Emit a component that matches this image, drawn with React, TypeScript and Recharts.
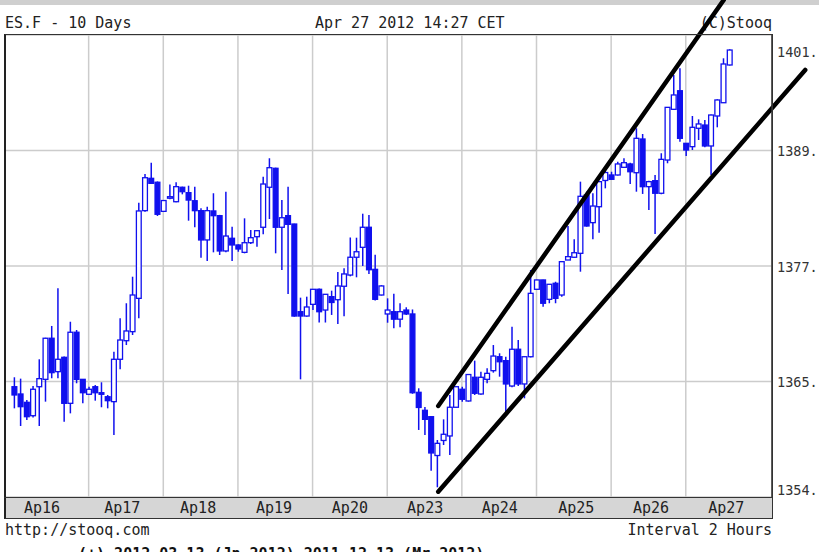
import React from 'react';
import { ComposedChart, Bar, XAxis, YAxis, CartesianGrid, ReferenceLine } from 'recharts';

// ---- data (2-hour candles, ES.F) ----
const opens = [
  1365.42, 1364.68, 1363.83, 1362.47, 1365.42, 1366.17, 1370.35, 1366.95, 1368.41, 1363.73, 1370.96, 1366.17,
  1364.65, 1365.42, 1364.81, 1364.4, 1363.9, 1368.21, 1370.1, 1371.02, 1374.41, 1383.33, 1386.62, 1386.22,
  1383.26, 1384.6, 1384.24, 1385.71, 1385.16, 1384.34, 1383.33, 1380.35, 1383.3, 1382.82, 1379.23, 1380.52,
  1379.84, 1379.09, 1380.07, 1380.68, 1381.64, 1385.71, 1387.64, 1381.64, 1382.82, 1381.97, 1373.05, 1372.61,
  1373.8, 1375.33, 1373.22, 1374.58, 1374.27, 1375.64, 1376.78, 1378.59, 1379.6, 1381.64, 1377.36, 1374.75,
  1372.82, 1373.05, 1372.29, 1373.22, 1372.82, 1364.85, 1363.02, 1362.37, 1358.42, 1359.95, 1360.41, 1363.33,
  1365.16, 1363.97, 1366.38, 1364.68, 1366.17, 1367.05, 1368.47, 1368.07, 1365.49, 1369.23, 1365.7, 1368.47,
  1375.33, 1376.28, 1374.31, 1375.94, 1374.75, 1378.31, 1378.59, 1378.99, 1384.92, 1382.11, 1383.73, 1386.4,
  1386.96, 1386.96, 1387.74, 1388.08, 1387.19, 1390.62, 1385.77, 1386.38, 1385.1, 1388.48, 1393.64, 1395.53,
  1390.18, 1389.84, 1391.71, 1392.04, 1389.91, 1392.96, 1394.31, 1398.15,
];
const highs = [
  1366.38, 1366.24, 1364.07, 1365.49, 1368.21, 1370.4, 1371.6, 1375.43, 1368.5, 1372.03, 1371.19, 1366.2,
  1365.42, 1365.59, 1365.87, 1364.58, 1368.98, 1372.38, 1373.91, 1376.61, 1384.14, 1387.06, 1388.21, 1386.3,
  1384.4, 1386.0, 1386.22, 1385.77, 1385.87, 1385.77, 1383.57, 1383.73, 1385.1, 1382.9, 1385.26, 1381.7,
  1379.9, 1382.55, 1381.36, 1381.36, 1386.78, 1388.66, 1387.7, 1384.41, 1385.77, 1382.0, 1374.48, 1374.58,
  1375.36, 1375.4, 1374.85, 1375.19, 1377.09, 1377.47, 1380.6, 1380.58, 1383.02, 1382.89, 1378.85, 1375.75,
  1374.41, 1374.88, 1373.91, 1373.5, 1373.28, 1365.26, 1363.36, 1362.4, 1360.0, 1362.1, 1364.58, 1365.45,
  1365.42, 1366.7, 1368.07, 1366.95, 1367.29, 1369.66, 1368.82, 1368.47, 1371.53, 1370.17, 1368.5, 1377.29,
  1376.3, 1376.3, 1375.85, 1376.1, 1378.15, 1381.77, 1380.42, 1386.28, 1385.26, 1385.1, 1386.3, 1387.47,
  1387.29, 1388.31, 1388.66, 1388.21, 1391.71, 1391.13, 1386.38, 1386.96, 1389.17, 1393.85, 1397.13, 1397.81,
  1390.2, 1392.96, 1392.62, 1392.55, 1393.1, 1394.66, 1398.83, 1399.75,
];
const lows = [
  1363.22, 1361.42, 1362.03, 1362.3, 1361.42, 1363.9, 1366.28, 1366.28, 1361.86, 1362.71, 1365.77, 1363.73,
  1364.58, 1364.0, 1363.33, 1363.22, 1360.51, 1367.19, 1369.66, 1370.68, 1372.38, 1383.22, 1386.04, 1382.79,
  1383.2, 1384.5, 1384.18, 1384.99, 1382.31, 1381.64, 1378.54, 1378.21, 1379.09, 1378.82, 1379.09, 1378.21,
  1379.15, 1378.99, 1379.94, 1379.66, 1380.93, 1382.48, 1378.99, 1377.29, 1374.85, 1372.54, 1366.17, 1372.54,
  1373.22, 1371.95, 1371.95, 1372.72, 1371.8, 1372.58, 1376.65, 1376.55, 1377.7, 1376.89, 1374.2, 1374.7,
  1371.93, 1371.36, 1371.46, 1372.72, 1364.7, 1361.02, 1360.51, 1356.88, 1355.19, 1359.49, 1358.47, 1363.3,
  1363.9, 1363.9, 1364.58, 1364.6, 1365.77, 1366.85, 1366.44, 1362.71, 1365.36, 1365.49, 1364.24, 1368.4,
  1375.3, 1373.56, 1373.91, 1373.91, 1374.58, 1378.3, 1378.55, 1377.12, 1381.7, 1380.42, 1381.09, 1385.6,
  1386.45, 1386.9, 1387.7, 1386.04, 1385.26, 1385.03, 1383.4, 1380.96, 1385.0, 1388.15, 1393.57, 1390.35,
  1388.89, 1389.5, 1390.52, 1389.78, 1386.96, 1391.81, 1394.3, 1398.1,
];
const closes = [
  1364.58, 1363.39, 1362.37, 1365.16, 1366.24, 1370.35, 1366.85, 1368.21, 1363.73, 1370.96, 1366.17, 1364.81,
  1365.16, 1364.81, 1364.65, 1364.0, 1368.21, 1370.17, 1371.09, 1374.75, 1383.3, 1386.68, 1386.11, 1382.96,
  1384.36, 1384.75, 1385.77, 1385.26, 1384.41, 1383.33, 1380.35, 1383.33, 1382.82, 1379.23, 1380.75, 1379.84,
  1379.43, 1380.07, 1380.58, 1381.29, 1386.04, 1387.7, 1381.64, 1382.61, 1381.94, 1372.61, 1372.61, 1373.53,
  1375.33, 1373.05, 1374.82, 1373.99, 1375.67, 1376.89, 1378.59, 1379.15, 1381.64, 1377.32, 1374.31, 1375.67,
  1373.22, 1372.29, 1373.05, 1372.82, 1364.81, 1363.31, 1362.1, 1358.68, 1359.66, 1360.58, 1363.33, 1365.42,
  1364.14, 1366.66, 1364.75, 1366.38, 1366.78, 1368.54, 1367.96, 1365.7, 1369.23, 1365.7, 1368.47, 1374.92,
  1376.28, 1373.91, 1375.84, 1374.41, 1378.14, 1378.65, 1379.05, 1384.79, 1381.77, 1383.8, 1386.28, 1387.21,
  1386.52, 1388.08, 1388.21, 1387.29, 1390.69, 1385.77, 1386.28, 1385.1, 1388.55, 1393.84, 1395.1, 1390.69,
  1389.5, 1391.81, 1392.15, 1389.91, 1393.06, 1394.59, 1398.25, 1399.67,
];

const dayLabels = ['Ap16', 'Ap17', 'Ap18', 'Ap19', 'Ap20', 'Ap23', 'Ap24', 'Ap25', 'Ap26', 'Ap27'];
const dayLabelPos = [4.5, 17.4, 29.6, 41.8, 54, 66.1, 78.1, 90.4, 102.4, 114.5];
const dayBoundaries = [12, 24, 36, 48, 60, 72, 84, 96, 108];
const yTicks = [1354.2, 1365.95, 1377.7, 1389.45, 1401.2];
const xDomain: [number, number] = [-1.447, 121.86];

// hand-drawn trend channel (index, price)
const upperLine = [
  { x: 68.2, y: 1363.46 },
  { x: 114.1, y: 1404.76 },
];
const lowerLine = [
  { x: 68.2, y: 1354.74 },
  { x: 127.2, y: 1397.64 },
];

const data = opens.map((o, i) => ({
  i,
  open: o,
  high: highs[i],
  low: lows[i],
  close: closes[i],
  range: [lows[i], highs[i]],
}));

const BLUE = '#1010ee';
const MONO = '"DejaVu Sans Mono", "Liberation Mono", monospace';

const Candle = (props: any) => {
  const { x, y, width, height, payload } = props;
  if (x == null || y == null || !payload) return null;
  const cx = x + width / 2;
  const top = Math.min(y, y + height);
  const h = Math.abs(height);
  const { open, close, high, low } = payload;
  const span = high - low || 1;
  const py = (p: number) => top + ((high - p) / span) * h;
  const up = close >= open;
  const yo = py(open);
  const yc = py(close);
  const bt = Math.min(yo, yc);
  const bh = Math.max(Math.abs(yo - yc), 1.5);
  return (
    <g>
      <line x1={cx} x2={cx} y1={top} y2={top + h} stroke={BLUE} strokeWidth={1.5} />
      <rect x={cx - 2.4} y={bt} width={4.8} height={bh} fill={up ? '#ffffff' : BLUE} stroke={BLUE} strokeWidth={1.3} />
    </g>
  );
};

const YTick = (props: any) => {
  const { x, y, payload } = props;
  const v = payload.value;
  let yy = y;
  if (Math.abs(v - yTicks[yTicks.length - 1]) < 0.01) yy = y + 17;
  else if (Math.abs(v - yTicks[0]) < 0.01) yy = y - 7;
  else yy = y + 1;
  return (
    <text x={x} y={yy} dy="0.35em" textAnchor="start" fontFamily={MONO} fontSize={13.5} fill="#333">
      {Math.floor(v) + '.'}
    </text>
  );
};

const XTick = (props: any) => {
  const { x, y, payload } = props;
  const idx = dayLabelPos.findIndex((p) => Math.abs(p - payload.value) < 0.01);
  return (
    <text x={x} y={y + 11} dy="0.35em" textAnchor="middle" fontFamily={MONO} fontSize={15} fill="#222">
      {idx >= 0 ? dayLabels[idx] : ''}
    </text>
  );
};

const txt: React.CSSProperties = {
  position: 'absolute',
  fontFamily: MONO,
  fontSize: 15,
  lineHeight: '16px',
  color: '#222',
  whiteSpace: 'pre',
};

export default function App() {
  return (
    <div style={{ position: 'absolute', left: 0, top: 0, width: 819, height: 552, overflow: 'hidden', background: '#fff' }}>
      <div style={{ position: 'absolute', left: 0, top: 0, width: 819, height: 5, background: '#cfcfcf' }} />
      <div style={{ ...txt, left: 5, top: 15 }}>ES.F - 10 Days</div>
      <div style={{ ...txt, left: 315, top: 15 }}>Apr 27 2012 14:27 CET</div>
      <div style={{ ...txt, right: 47, top: 15 }}>(C)Stooq</div>

      <div style={{ position: 'absolute', left: 5, top: 497, width: 767, height: 21, background: '#d6d6d6' }} />

      <div style={{ position: 'absolute', left: 0, top: 0 }}>
        <ComposedChart width={819} height={552} data={data} margin={{ top: 35, right: 0, bottom: 34, left: 5 }}>
          <XAxis
            xAxisId="lab"
            type="number"
            dataKey="i"
            domain={xDomain}
            ticks={dayLabelPos}
            allowDataOverflow
            height={21}
            tickLine={false}
            axisLine={false}
            tickSize={0}
            tickMargin={0}
            interval={0}
            tick={<XTick />}
          />
          <XAxis xAxisId="g" type="number" dataKey="i" domain={xDomain} ticks={dayBoundaries} allowDataOverflow hide height={0} />
          <YAxis
            orientation="right"
            type="number"
            domain={[yTicks[0], yTicks[yTicks.length - 1]]}
            ticks={yTicks}
            allowDataOverflow
            width={47}
            tickLine={false}
            axisLine={{ stroke: '#333', strokeWidth: 1.5 }}
            tickSize={0}
            tickMargin={5}
            interval={0}
            tick={<YTick />}
          />
          <CartesianGrid xAxisId="g" stroke="#cccccc" strokeWidth={1.5} />
          <Bar xAxisId="g" dataKey="range" barSize={5} shape={<Candle />} isAnimationActive={false} />
          <ReferenceLine
            xAxisId="g"
            segment={upperLine}
            stroke="#000"
            strokeWidth={4.5}
            strokeLinecap="round"
            ifOverflow="visible"
          />
          <ReferenceLine
            xAxisId="g"
            segment={lowerLine}
            stroke="#000"
            strokeWidth={4.5}
            strokeLinecap="round"
            ifOverflow="visible"
          />
        </ComposedChart>
      </div>

      <div style={{ position: 'absolute', left: 4, top: 34, width: 769, height: 485, border: '1px solid #333', borderLeft: '2px solid #222', boxSizing: 'border-box', pointerEvents: 'none' }} />
      <div style={{ position: 'absolute', left: 4, top: 497, width: 769, height: 1, background: '#333' }} />

      <div style={{ ...txt, left: 5, top: 522 }}>http://stooq.com</div>
      <div style={{ ...txt, right: 47, top: 522 }}>Interval 2 Hours</div>
      <div style={{ ...txt, left: 78, top: 546, fontWeight: 'bold', color: '#111' }}>(+) 2012-03-13 (Jn 2012) 2011-12-13 (Mr 2012)</div>
    </div>
  );
}
